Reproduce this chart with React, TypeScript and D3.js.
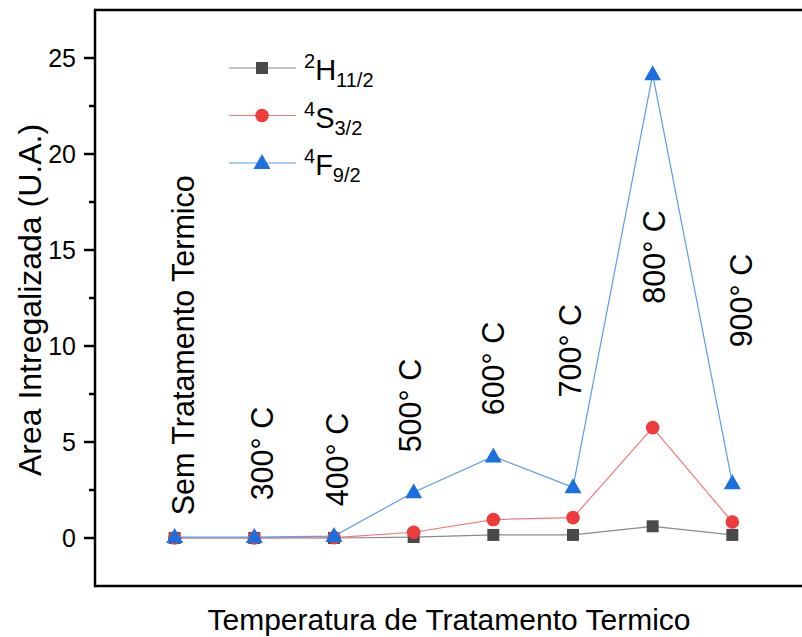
import React from 'react';
import * as d3 from 'd3';

// --- Data ---
const categories = [
  'Sem Tratamento Termico',
  '300° C',
  '400° C',
  '500° C',
  '600° C',
  '700° C',
  '800° C',
  '900° C',
];
const h112 = [0, 0, 0, 0.05, 0.16, 0.16, 0.61, 0.16];
const s32 = [0, 0, 0.02, 0.3, 0.96, 1.06, 5.75, 0.83];
const f92 = [0.05, 0.05, 0.1, 2.38, 4.25, 2.64, 24.15, 2.85];

// where each rotated category label sits (x in category units, y in data units)
const labelDx = [0.24, 0.24, 0.18, 0.09, 0.13, 0.1, 0.16, 0.25];
const labelY = [1.18, 1.96, 1.65, 4.46, 6.39, 7.32, 12.2, 9.93];

const yTicks = [0, 5, 10, 15, 20, 25];
const yMinorTicks = [2.5, 7.5, 12.5, 17.5, 22.5];

const series = [
  { name: 'H', sup: '2', sub: '11/2', values: h112, color: '#4a4a4a', line: '#8a8a8a', shape: 'square' },
  { name: 'S', sup: '4', sub: '3/2', values: s32, color: '#ee3b3b', line: '#f07a7a', shape: 'circle' },
  { name: 'F', sup: '4', sub: '9/2', values: f92, color: '#1b6fe0', line: '#5c9cea', shape: 'triangle' },
];

const FONT = 'Arial, "Liberation Sans", sans-serif';

const Marker = ({ shape, x, y, color }: { shape: string; x: number; y: number; color: string }) => {
  if (shape === 'square') return <rect x={x - 6} y={y - 6} width={12} height={12} fill={color} />;
  if (shape === 'circle') return <circle cx={x} cy={y} r={6.8} fill={color} />;
  return <path d={`M${x},${y - 9} L${x + 8.5},${y + 6} L${x - 8.5},${y + 6} Z`} fill={color} />;
};

const App = () => {
  const width = 802;
  const height = 637;

  const x = d3.scaleLinear().domain([-1, 8]).range([95, 812]);
  const y = d3.scaleLinear().domain([-2.5, 27.5]).range([586, 10]);

  const line = d3
    .line<number>()
    .x((d, i) => x(i))
    .y((d) => y(d));

  return (
    <svg
      width={width}
      height={height}
      style={{ position: 'absolute', left: 0, top: 0, display: 'block', fontFamily: FONT }}
    >
      <rect width={width} height={height} fill="#fff" />

      {/* frame lines */}
      <line x1={95} x2={width} y1={y(27.5)} y2={y(27.5)} stroke="#000" strokeWidth={2.5} />
      <line x1={95} x2={width} y1={y(-2.5)} y2={y(-2.5)} stroke="#000" strokeWidth={2.5} />
      <line x1={95} x2={95} y1={y(27.5) - 1.25} y2={y(-2.5) + 1.25} stroke="#000" strokeWidth={2.5} />

      {/* y ticks */}
      {yTicks.map((t) => (
        <g key={t}>
          <line x1={84} x2={95} y1={y(t)} y2={y(t)} stroke="#000" strokeWidth={2.5} />
          <text x={76} y={y(t)} dy="0.36em" textAnchor="end" fontSize={25} fill="#000">
            {t}
          </text>
        </g>
      ))}
      {yMinorTicks.map((t) => (
        <line key={t} x1={89} x2={95} y1={y(t)} y2={y(t)} stroke="#000" strokeWidth={2.5} />
      ))}

      {/* axis titles */}
      <text
        transform={`translate(41,${(y(27.5) + y(-2.5)) / 2 + 2}) rotate(-90)`}
        textAnchor="middle"
        fontSize={32}
        fill="#000"
      >
        Area Intregalizada (U.A.)
      </text>
      <text x={449} y={630} textAnchor="middle" fontSize={30} fill="#000">
        Temperatura de Tratamento Termico
      </text>

      {/* category labels */}
      {categories.map((c, i) => (
        <text
          key={c}
          transform={`translate(${x(i + labelDx[i])},${y(labelY[i])}) rotate(-90)`}
          fontSize={30.5}
          fill="#000"
        >
          {c}
        </text>
      ))}

      {/* series */}
      {series.map((s) => (
        <g key={s.name}>
          <path d={line(s.values) || ''} fill="none" stroke={s.line} strokeWidth={1.2} />
          {s.values.map((v, i) => (
            <Marker key={i} shape={s.shape} x={x(i)} y={y(v)} color={s.color} />
          ))}
        </g>
      ))}

      {/* legend */}
      {series.map((s, i) => {
        const ly = 68 + i * 47.5;
        return (
          <g key={s.name}>
            <line x1={229} x2={296} y1={ly} y2={ly} stroke={s.line} strokeWidth={1.2} />
            <Marker shape={s.shape} x={262} y={ly} color={s.color} />
            <text x={304} y={ly + 12} fontSize={29} fill="#000">
              <tspan fontSize={20} dy={-12}>{s.sup}</tspan>
              <tspan dy={12}>{s.name}</tspan>
              <tspan fontSize={20} dy={7}>{s.sub}</tspan>
            </text>
          </g>
        );
      })}
    </svg>
  );
};

export default App;
